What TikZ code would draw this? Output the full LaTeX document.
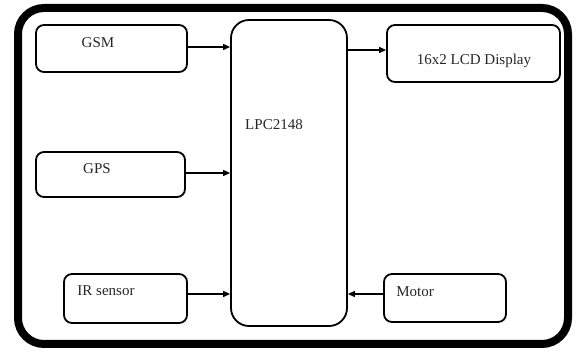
\documentclass[tikz,border=0pt]{standalone}
\usepackage{fontspec}
\setmainfont{Liberation Serif}
\usetikzlibrary{arrows.meta}
\begin{document}
\begin{tikzpicture}[x=1pt,y=-1pt,
  blk/.style={draw, line width=1.8pt, rounded corners=8pt, inner sep=0pt},
  lbl/.style={font=\fontsize{15}{18}\selectfont, inner sep=0pt, text=black!85},
  arr/.style={draw, line width=1.2pt, -{Triangle[length=7pt,width=6pt]}}]
\useasboundingbox (0,0) rectangle (576,352);
% outer frame
\draw[line width=8pt, rounded corners=26pt] (18,8) rectangle (568,344);
% boxes
\node[blk, minimum width=151pt, minimum height=47pt] (gsm) at (111.5,48.5) {};
\node[blk, minimum width=149pt, minimum height=45pt] (gps) at (110.5,174.5) {};
\node[blk, minimum width=123pt, minimum height=49pt] (ir) at (125.5,298.5) {};
\node[blk, rounded corners=18pt, minimum width=116pt, minimum height=306pt] (lpc) at (289,173) {};
\node[blk, minimum width=173pt, minimum height=57pt] (lcd) at (473.5,53.5) {};
\node[blk, minimum width=122pt, minimum height=48pt] (motor) at (445,298) {};
% labels
\node[lbl] (gsmt) at (98,42.5) {GSM};
\node[lbl] (gpst) at (97,168.5) {GPS};
\node[lbl] (irt) at (106,290.5) {IR sensor};
\node[lbl] (lpct) at (274,125) {LPC2148};
\node[lbl] (lcdt) at (474,60.5) {16x2 LCD Display};
\node[lbl] (motort) at (415,292) {Motor};
% connectors
\draw[arr] ([yshift=1.5pt]gsm.east) -- ([yshift=1.5pt]gsm.east -| lpc.west);
\draw[arr] ([yshift=1.5pt]gps.east) -- ([yshift=1.5pt]gps.east -| lpc.west);
\draw[arr] ([yshift=4.5pt]ir.east) -- ([yshift=4.5pt]ir.east -| lpc.west);
\draw[arr] ([yshift=3.5pt]lcd.west -| lpc.east) -- ([yshift=3.5pt]lcd.west);
\draw[arr] ([yshift=4pt]motor.west) -- ([yshift=4pt]motor.west -| lpc.east);
\end{tikzpicture}
\end{document}
